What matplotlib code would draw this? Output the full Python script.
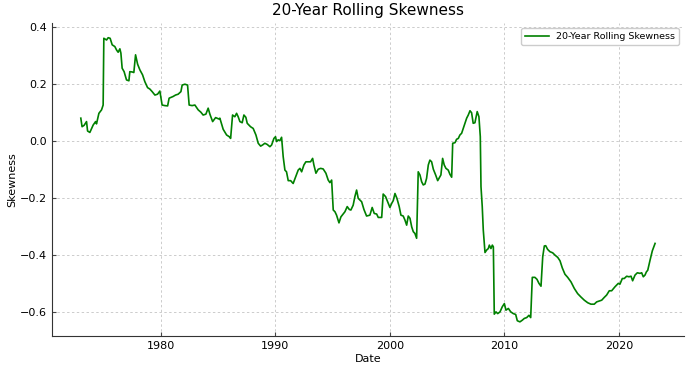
import matplotlib
matplotlib.use("Agg")
import matplotlib.pyplot as plt
from matplotlib.ticker import MultipleLocator

# Dates (decimal years) and 20-year rolling skewness
years = [
    1973.01, 1973.12, 1973.30, 1973.51, 1973.60, 1973.80, 1974.09, 1974.30, 1974.38, 1974.59,
    1974.82, 1974.96, 1975.02, 1975.26, 1975.40, 1975.57, 1975.75, 1975.98, 1976.13, 1976.27,
    1976.42, 1976.51, 1976.62, 1976.79, 1977.00, 1977.21, 1977.29, 1977.49, 1977.64, 1977.79,
    1977.97, 1978.17, 1978.40, 1978.60, 1978.84, 1979.04, 1979.24, 1979.48, 1979.71, 1979.91,
    1980.11, 1980.35, 1980.59, 1980.72, 1981.07, 1981.28, 1981.51, 1981.75, 1981.86, 1982.10,
    1982.33, 1982.47, 1982.73, 1982.97, 1983.26, 1983.49, 1983.69, 1983.93, 1984.13, 1984.28,
    1984.52, 1984.78, 1985.07, 1985.15, 1985.44, 1985.74, 1985.97, 1986.09, 1986.26, 1986.46,
    1986.61, 1986.75, 1986.90, 1987.10, 1987.25, 1987.42, 1987.54, 1987.83, 1988.06, 1988.30,
    1988.50, 1988.71, 1988.88, 1989.08, 1989.28, 1989.52, 1989.67, 1989.87, 1990.01, 1990.10,
    1990.24, 1990.39, 1990.54, 1990.68, 1990.83, 1990.97, 1991.12, 1991.33, 1991.55, 1991.79,
    1991.99, 1992.14, 1992.29, 1992.49, 1992.66, 1992.86, 1993.07, 1993.25, 1993.36, 1993.54,
    1993.74, 1993.95, 1994.17, 1994.41, 1994.61, 1994.76, 1994.91, 1995.05, 1995.20, 1995.34,
    1995.55, 1995.72, 1995.92, 1996.07, 1996.27, 1996.45, 1996.59, 1996.79, 1996.94, 1997.09,
    1997.23, 1997.53, 1997.73, 1997.96, 1998.25, 1998.45, 1998.63, 1998.84, 1998.98, 1999.28,
    1999.41, 1999.62, 1999.80, 2000.00, 2000.15, 2000.29, 2000.44, 2000.61, 2000.81, 2000.96,
    2001.16, 2001.31, 2001.46, 2001.60, 2001.75, 2001.90, 2002.04, 2002.18, 2002.33, 2002.47,
    2002.62, 2002.77, 2002.91, 2003.06, 2003.20, 2003.35, 2003.49, 2003.64, 2003.79, 2003.99,
    2004.17, 2004.28, 2004.45, 2004.60, 2004.74, 2004.89, 2005.09, 2005.24, 2005.39, 2005.48,
    2005.68, 2005.82, 2005.97, 2006.11, 2006.26, 2006.40, 2006.55, 2006.70, 2006.84, 2006.99,
    2007.13, 2007.27, 2007.42, 2007.62, 2007.77, 2007.89, 2007.95, 2008.06, 2008.15, 2008.30,
    2008.45, 2008.59, 2008.68, 2008.82, 2008.94, 2009.03, 2009.11, 2009.26, 2009.41, 2009.61,
    2009.81, 2009.99, 2010.13, 2010.34, 2010.55, 2010.77, 2010.98, 2011.12, 2011.35, 2011.56,
    2011.73, 2011.94, 2012.14, 2012.29, 2012.43, 2012.66, 2012.84, 2013.01, 2013.19, 2013.34,
    2013.48, 2013.60, 2013.77, 2013.97, 2014.21, 2014.41, 2014.65, 2014.85, 2015.05, 2015.28,
    2015.52, 2015.81, 2016.10, 2016.39, 2016.68, 2016.97, 2017.27, 2017.55, 2017.84, 2018.05,
    2018.28, 2018.49, 2018.72, 2018.92, 2019.15, 2019.36, 2019.65, 2019.94, 2020.08, 2020.29,
    2020.46, 2020.67, 2020.87, 2021.05, 2021.19, 2021.40, 2021.60, 2021.83, 2021.98, 2022.12,
    2022.27, 2022.39, 2022.51, 2022.71, 2022.91, 2023.15,
]
skewness = [
    0.080, 0.050, 0.055, 0.068, 0.035, 0.030, 0.056, 0.068, 0.060, 0.097,
    0.109, 0.126, 0.360, 0.354, 0.362, 0.360, 0.337, 0.331, 0.319, 0.311,
    0.323, 0.308, 0.255, 0.243, 0.214, 0.211, 0.243, 0.242, 0.240, 0.302,
    0.269, 0.249, 0.232, 0.208, 0.187, 0.182, 0.173, 0.161, 0.164, 0.175,
    0.126, 0.124, 0.123, 0.150, 0.156, 0.161, 0.164, 0.173, 0.196, 0.199,
    0.196, 0.126, 0.124, 0.126, 0.109, 0.101, 0.091, 0.094, 0.115, 0.094,
    0.068, 0.082, 0.077, 0.080, 0.041, 0.021, 0.015, 0.009, 0.091, 0.085,
    0.097, 0.085, 0.068, 0.064, 0.091, 0.083, 0.062, 0.050, 0.044, 0.021,
    -0.008, -0.018, -0.014, -0.008, -0.012, -0.020, -0.014, 0.009, 0.015, -0.002,
    0.004, 0.001, 0.013, -0.055, -0.102, -0.108, -0.139, -0.139, -0.149, -0.123,
    -0.102, -0.096, -0.108, -0.084, -0.073, -0.073, -0.073, -0.061, -0.084, -0.113,
    -0.099, -0.096, -0.098, -0.113, -0.137, -0.146, -0.137, -0.242, -0.248, -0.260,
    -0.287, -0.266, -0.256, -0.248, -0.230, -0.240, -0.242, -0.225, -0.195, -0.172,
    -0.201, -0.213, -0.240, -0.263, -0.260, -0.233, -0.254, -0.256, -0.268, -0.268,
    -0.186, -0.195, -0.213, -0.233, -0.219, -0.209, -0.184, -0.201, -0.230, -0.260,
    -0.263, -0.277, -0.295, -0.263, -0.271, -0.301, -0.318, -0.324, -0.341, -0.108,
    -0.119, -0.143, -0.154, -0.151, -0.131, -0.084, -0.067, -0.073, -0.099, -0.119,
    -0.139, -0.131, -0.119, -0.061, -0.084, -0.096, -0.102, -0.117, -0.127, -0.008,
    -0.006, 0.006, 0.009, 0.021, 0.027, 0.044, 0.062, 0.080, 0.091, 0.106,
    0.099, 0.062, 0.064, 0.103, 0.085, 0.015, -0.160, -0.230, -0.312, -0.391,
    -0.382, -0.377, -0.365, -0.377, -0.365, -0.371, -0.607, -0.599, -0.605, -0.599,
    -0.581, -0.570, -0.593, -0.587, -0.599, -0.605, -0.608, -0.630, -0.634, -0.628,
    -0.622, -0.619, -0.611, -0.619, -0.478, -0.478, -0.485, -0.499, -0.509, -0.406,
    -0.368, -0.367, -0.380, -0.388, -0.392, -0.400, -0.408, -0.420, -0.445, -0.467,
    -0.478, -0.494, -0.517, -0.535, -0.547, -0.558, -0.567, -0.572, -0.572, -0.564,
    -0.561, -0.558, -0.548, -0.540, -0.525, -0.525, -0.511, -0.499, -0.502, -0.482,
    -0.482, -0.474, -0.476, -0.474, -0.490, -0.470, -0.462, -0.464, -0.462, -0.476,
    -0.470, -0.459, -0.453, -0.418, -0.385, -0.359,
]

fig, ax = plt.subplots(figsize=(6.9, 3.73), dpi=100)
fig.subplots_adjust(left=0.0755, right=0.991, bottom=0.099, top=0.937)

ax.plot(years, skewness, color="green", linewidth=1.2, label="20-Year Rolling Skewness")

ax.set_title("20-Year Rolling Skewness", fontsize=11)
ax.set_xlabel("Date", fontsize=8, labelpad=2)
ax.set_ylabel("Skewness", fontsize=8, labelpad=2)
ax.xaxis.set_major_locator(MultipleLocator(10))
ax.yaxis.set_major_locator(MultipleLocator(0.2))
ax.tick_params(labelsize=8, direction="in", length=3, color="#444444")

ax.grid(True, color="#cccccc", linestyle=(0, (2.5, 2.5)), linewidth=0.7)
for side in ["top", "right"]:
    ax.spines[side].set_visible(False)
for side in ["left", "bottom"]:
    ax.spines[side].set_color("#333333")

ax.legend(loc="upper right", fontsize=6.8, handlelength=2.5, framealpha=1)

fig.savefig("out.png", dpi=100)
